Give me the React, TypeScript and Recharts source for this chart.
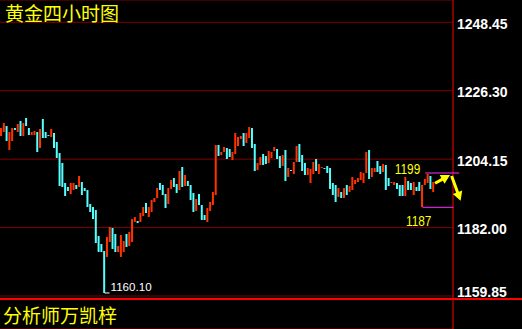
import React from 'react';
import { ComposedChart, Bar, Cell, XAxis, YAxis, CartesianGrid, ReferenceDot } from 'recharts';

// 4h gold candles (body only, wicks are not distinguishable)
const opens = [
  1211.65, 1212.94, 1214.88, 1207.11, 1210.03, 1214.24, 1212.94, 1216.50, 1211.65, 1217.47,
  1214.24, 1211.97, 1211.97, 1212.94, 1207.76, 1217.15, 1212.94, 1211.97, 1211.32, 1212.62,
  1209.70, 1206.14, 1202.91, 1196.43, 1195.14, 1192.87, 1194.17, 1195.79, 1195.14, 1196.76,
  1194.81, 1194.17, 1189.64, 1188.66, 1187.69, 1179.28, 1176.69, 1174.42, 1172.48, 1177.33,
  1181.87, 1179.92, 1174.10, 1172.48, 1174.10, 1179.92, 1176.04, 1177.33, 1183.81, 1184.13,
  1183.81, 1185.75, 1189.96, 1185.43, 1187.05, 1190.28, 1191.58, 1196.43, 1195.79, 1192.87,
  1189.64, 1194.49, 1198.05, 1196.11, 1194.17, 1201.61, 1195.46, 1197.08, 1195.79, 1193.20,
  1187.37, 1192.87, 1189.31, 1186.07, 1183.81, 1187.37, 1189.31, 1192.55, 1208.73, 1205.50,
  1206.47, 1207.76, 1207.44, 1203.88, 1205.82, 1208.41, 1210.68, 1212.62, 1209.38, 1211.00,
  1214.24, 1209.06, 1200.64, 1202.26, 1205.82, 1205.17, 1202.91, 1204.53, 1206.79, 1207.44,
  1205.17, 1201.94, 1207.11, 1198.38, 1200.64, 1199.35, 1203.23, 1209.06, 1205.50, 1202.91,
  1199.02, 1196.43, 1199.35, 1204.20, 1199.35, 1201.29, 1201.29, 1201.94, 1201.29, 1196.43,
  1195.79, 1191.90, 1193.52, 1191.58, 1195.79, 1193.52, 1194.17, 1196.11, 1196.76, 1197.40,
  1196.43, 1199.67, 1207.11, 1198.38, 1199.99, 1203.55, 1201.94, 1199.99, 1202.26, 1198.05,
  1196.43, 1195.79, 1196.43, 1195.79, 1195.79, 1192.22, 1197.08, 1196.43, 1192.55, 1195.14,
  1196.76, 1188.66, 1195.79, 1196.43, 1198.70, 1193.52,
];
const closes = [
  1214.24, 1215.85, 1210.03, 1212.94, 1214.24, 1213.59, 1215.53, 1211.65, 1215.85, 1214.88,
  1211.97, 1212.94, 1213.27, 1206.47, 1213.91, 1211.00, 1211.00, 1211.65, 1213.91, 1207.76,
  1204.53, 1195.46, 1195.14, 1192.22, 1193.84, 1196.43, 1196.43, 1194.49, 1198.70, 1192.55,
  1193.84, 1188.66, 1187.05, 1184.78, 1177.01, 1174.10, 1174.10, 1160.83, 1178.95, 1182.19,
  1175.07, 1174.10, 1176.04, 1179.60, 1177.66, 1175.72, 1180.57, 1184.78, 1185.43, 1183.48,
  1186.72, 1188.66, 1186.72, 1188.66, 1190.93, 1191.58, 1194.81, 1194.17, 1192.55, 1188.34,
  1194.81, 1197.40, 1195.14, 1193.20, 1200.32, 1195.14, 1199.02, 1195.46, 1190.93, 1187.05,
  1191.25, 1189.31, 1184.46, 1184.46, 1188.34, 1190.28, 1193.52, 1208.73, 1205.17, 1206.47,
  1208.09, 1204.20, 1204.85, 1206.47, 1212.62, 1211.32, 1211.65, 1208.41, 1212.62, 1214.56,
  1207.76, 1200.32, 1202.91, 1204.85, 1202.26, 1202.58, 1206.79, 1206.47, 1208.09, 1204.20,
  1201.29, 1205.50, 1197.08, 1201.29, 1200.32, 1203.23, 1208.41, 1203.23, 1200.32, 1199.02,
  1201.29, 1200.96, 1203.23, 1200.32, 1202.58, 1201.61, 1200.96, 1199.67, 1194.49, 1192.55,
  1190.28, 1194.81, 1191.58, 1194.81, 1192.55, 1195.46, 1198.38, 1197.40, 1198.05, 1199.99,
  1199.67, 1206.47, 1197.73, 1201.29, 1201.29, 1199.99, 1199.35, 1202.58, 1194.17, 1195.46,
  1196.76, 1196.76, 1194.49, 1192.22, 1192.22, 1198.38, 1194.17, 1194.17, 1196.76, 1193.84,
  1193.84, 1195.79, 1197.73, 1199.35, 1194.49, 1196.76,
];

const priceTicks = [1159.85, 1182.0, 1204.15, 1226.3, 1248.45];
const priceDomain = [1149.17, 1255.67];

const lowIdx = 37;
const lowPrice = 1160.83;
const lowLabel = '1160.10';
const boxBottomIdx = 151;
const boxTopIdx = 152;
const lastIdx = 155;
const boxTopPrice = 1199.67;
const boxBottomPrice = 1188.57;
const upLabel = '1199';
const downLabel = '1187';

const title = '黄金四小时图';
const author = '分析师万凯梓';

const UP = '#ff3300';
const DOWN = '#55ffff';
const YELLOW = '#ffff00';
const MAGENTA = '#ff30ff';

const data = opens.map((o, i) => ({
  i,
  open: o,
  close: closes[i],
  body: [Math.min(o, closes[i]), Math.max(o, closes[i])],
}));

function arrowPoints(x1: number, y1: number, x2: number, y2: number) {
  const dx = x2 - x1, dy = y2 - y1;
  const len = Math.hypot(dx, dy);
  const ux = dx / len, uy = dy / len;
  const px = -uy, py = ux;
  const head = 9, hw = 5, sw = 1.5;
  const bx = x2 - ux * head, by = y2 - uy * head;
  const pts = [
    [x1 + px * sw, y1 + py * sw],
    [bx + px * sw, by + py * sw],
    [bx + px * hw, by + py * hw],
    [x2, y2],
    [bx - px * hw, by - py * hw],
    [bx - px * sw, by - py * sw],
    [x1 - px * sw, y1 - py * sw],
  ];
  return pts.map((p) => p.join(',')).join(' ');
}

const PriceTick = (props: any) => {
  const { x, y, payload } = props;
  const dy = payload.value === priceTicks[0] ? 1 : 6.5;
  return (
    <text x={x} y={y + dy} fill="#fff" fontSize={14} fontWeight="bold" fontFamily="Liberation Sans, Arial, sans-serif" textAnchor="start">
      {payload.value.toFixed(2)}
    </text>
  );
};

export default function App() {
  return (
    <div style={{ position: 'absolute', left: 0, top: 0, width: 522, height: 329, background: '#000', overflow: 'hidden' }}>
      <ComposedChart width={522} height={329} data={data} margin={{ top: 0, right: 0, bottom: 0, left: 0 }}>
        <CartesianGrid vertical={false} stroke="#800000" />
        <XAxis dataKey="i" hide padding={{ left: 0, right: 18 }} />
        <YAxis
          orientation="right"
          width={69}
          domain={priceDomain}
          ticks={priceTicks}
          axisLine={{ stroke: '#ff0000' }}
          tickLine={false}
          tickSize={0}
          tickMargin={4}
          tick={<PriceTick />}
        />
        <Bar dataKey="body" barSize={2} isAnimationActive={false}>
          {data.map((d) => (
            <Cell key={d.i} fill={d.close >= d.open ? UP : DOWN} />
          ))}
        </Bar>
        <ReferenceDot
          x={lowIdx}
          y={lowPrice}
          ifOverflow="visible"
          shape={(p: any) => (
            <g>
              <line x1={p.cx} y1={p.cy} x2={p.cx + 5} y2={p.cy} stroke="#fff" />
              <text x={p.cx + 6} y={p.cy - 1.5} fill="#fff" fontSize={11.6} fontFamily="Liberation Sans, Arial, sans-serif">
                {lowLabel}
              </text>
            </g>
          )}
        />
        <ReferenceDot
          x={boxBottomIdx}
          y={boxBottomPrice}
          ifOverflow="visible"
          shape={(p: any) => (
            <g>
              <line x1={p.cx} y1={p.cy} x2={p.cx + 31} y2={p.cy} stroke={MAGENTA} />
              <text x={p.cx - 16.5} y={p.cy + 18.7} fill={YELLOW} fontSize={15} textLength={25.5} lengthAdjust="spacingAndGlyphs" fontFamily="Liberation Sans, Arial, sans-serif">
                {downLabel}
              </text>
            </g>
          )}
        />
        <ReferenceDot
          x={boxTopIdx}
          y={boxTopPrice}
          ifOverflow="visible"
          shape={(p: any) => (
            <g>
              <line x1={p.cx} y1={p.cy} x2={p.cx + 34} y2={p.cy} stroke={MAGENTA} />
              <text x={p.cx - 30.5} y={p.cy + 1.2} fill={YELLOW} fontSize={15} textLength={25.5} lengthAdjust="spacingAndGlyphs" fontFamily="Liberation Sans, Arial, sans-serif">
                {upLabel}
              </text>
            </g>
          )}
        />
        <ReferenceDot
          x={lastIdx}
          y={boxTopPrice}
          ifOverflow="visible"
          shape={(p: any) => (
            <g fill={YELLOW}>
              <polygon points={arrowPoints(p.cx + 1.4, p.cy + 10.3, p.cx + 16.4, p.cy + 2)} />
              <polygon points={arrowPoints(p.cx + 18, p.cy + 3, p.cx + 27, p.cy + 27.7)} />
            </g>
          )}
        />
      </ComposedChart>
      <div style={{ position: 'absolute', left: 0, top: 298, width: 522, height: 2, background: '#ff0000' }} />
      <div style={{ position: 'absolute', left: 5, top: 3, color: YELLOW, fontSize: 19, lineHeight: '19px', fontFamily: '"Noto Sans CJK SC", sans-serif', whiteSpace: 'nowrap' }}>
        {title}
      </div>
      <div style={{ position: 'absolute', left: 3, top: 305, color: YELLOW, fontSize: 19, lineHeight: '19px', fontFamily: '"Noto Sans CJK SC", sans-serif', whiteSpace: 'nowrap' }}>
        {author}
      </div>
    </div>
  );
}
